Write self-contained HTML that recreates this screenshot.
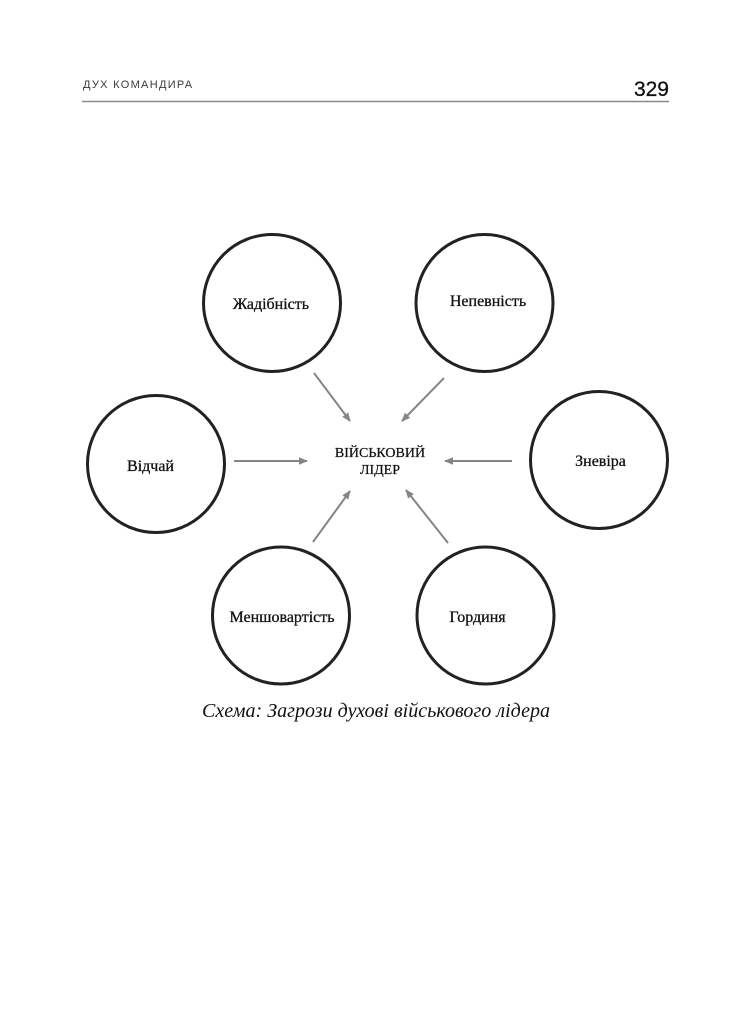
<!DOCTYPE html>
<html>
<head>
<meta charset="utf-8">
<style>
  html,body{margin:0;padding:0;background:#fff;}
  body{width:740px;height:1024px;overflow:hidden;position:relative;}
  svg{position:absolute;left:0;top:0;}
</style>
</head>
<body>
<svg width="740" height="1024" viewBox="0 0 740 1024" xmlns="http://www.w3.org/2000/svg">
  <defs>
    <marker id="ah" markerWidth="9" markerHeight="9" refX="8" refY="4.5" orient="auto" markerUnits="userSpaceOnUse">
      <path d="M0,0.8 L9,4.5 L0,8.2 Z" fill="#858585"/>
    </marker>
  </defs>
  <rect x="0" y="0" width="740" height="1024" fill="#ffffff"/>

  <!-- Header -->
  <text x="83" y="88" font-family="Liberation Sans, sans-serif" font-size="11" letter-spacing="1.3" fill="#3a3a3a">ДУХ КОМАНДИРА</text>
  <text x="669" y="96" text-anchor="end" font-family="Liberation Sans, sans-serif" font-size="21" fill="#111" stroke="#111" stroke-width="0.3">329</text>
  <line x1="82" y1="101.5" x2="669" y2="101.5" stroke="#8a8a8a" stroke-width="1.6"/>

  <!-- Circles -->
  <g fill="none" stroke="#222" stroke-width="3">
    <circle cx="272" cy="303" r="68.5"/>
    <circle cx="484.5" cy="303" r="68.5"/>
    <circle cx="156" cy="464" r="68.5"/>
    <circle cx="599" cy="460" r="68.5"/>
    <circle cx="281" cy="615.5" r="68.5"/>
    <circle cx="485.5" cy="615.5" r="68.5"/>
  </g>

  <!-- Labels -->
  <g font-family="Liberation Serif, serif" font-size="16" fill="#111" stroke="#111" stroke-width="0.3" text-anchor="middle">
    <text x="271" y="309">Жадібність</text>
    <text x="488" y="306">Непевність</text>
    <text x="150.5" y="471">Відчай</text>
    <text x="600.5" y="466">Зневіра</text>
    <text x="282" y="622">Меншовартість</text>
    <text x="477.5" y="622">Гординя</text>
  </g>

  <!-- Center -->
  <g font-family="Liberation Serif, serif" font-size="14" fill="#111" stroke="#111" stroke-width="0.25" text-anchor="middle">
    <text x="380" y="457">ВІЙСЬКОВИЙ</text>
    <text x="380" y="474">ЛІДЕР</text>
  </g>

  <!-- Arrows -->
  <g stroke="#858585" stroke-width="2" marker-end="url(#ah)">
    <line x1="314" y1="373" x2="350" y2="421"/>
    <line x1="444" y1="378" x2="402" y2="421"/>
    <line x1="234" y1="461" x2="307" y2="461"/>
    <line x1="512" y1="461" x2="445" y2="461"/>
    <line x1="313" y1="542" x2="350" y2="491"/>
    <line x1="448" y1="543" x2="406" y2="490"/>
  </g>

  <!-- Caption -->
  <text x="376" y="717" text-anchor="middle" font-family="Liberation Serif, serif" font-style="italic" font-size="20" fill="#111" textLength="348" lengthAdjust="spacing">Схема: Загрози духові військового лідера</text>
</svg>
</body>
</html>
